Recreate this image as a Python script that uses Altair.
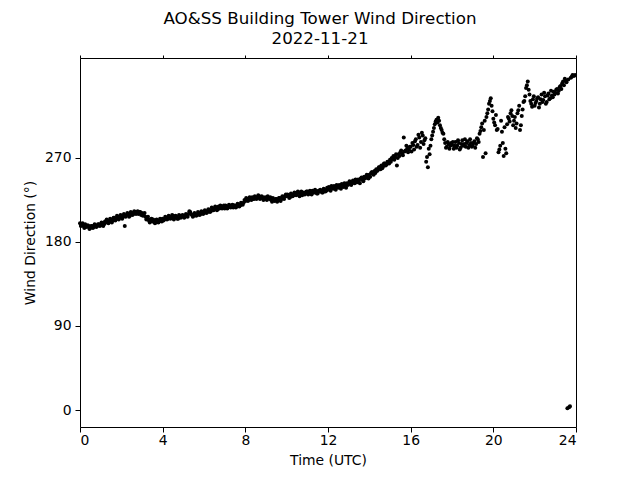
import altair as alt
import pandas as pd

# Wind direction (degrees). Series A: readings on the 5-minute marks,
# series B: readings in between (2.5 minutes later). One row per UTC hour.
a_00 = [200, 198, 197, 199, 196, 197, 195, 197, 196, 198, 197, 199]
a_01 = [198, 200, 199, 201, 203, 202, 204, 203, 206, 205, 207, 206]
a_02 = [208, 207, 197, 209, 210, 208, 211, 210, 212, 211, 210, 212]
a_03 = [211, 209, 207, 205, 203, 204, 202, 203, 201, 203, 202, 204]
a_04 = [205, 204, 206, 205, 207, 206, 208, 206, 207, 205, 208, 207]
a_05 = [208, 207, 209, 210, 212, 209, 208, 210, 209, 211, 210, 212]
a_06 = [211, 213, 212, 214, 213, 216, 215, 217, 215, 216, 218, 217]
a_07 = [216, 218, 217, 219, 218, 217, 219, 218, 220, 219, 221, 222]
a_08 = [224, 226, 225, 227, 228, 226, 228, 227, 229, 227, 228, 226]
a_09 = [227, 229, 226, 225, 227, 224, 226, 225, 227, 226, 228, 229]
a_10 = [229, 230, 228, 231, 230, 232, 231, 233, 232, 230, 233, 232]
a_11 = [234, 232, 233, 235, 233, 234, 232, 234, 235, 233, 236, 235]
a_12 = [236, 238, 240, 237, 239, 241, 238, 240, 242, 239, 241, 243]
a_13 = [242, 244, 243, 245, 247, 244, 246, 248, 247, 250, 249, 251]
a_14 = [252, 254, 253, 256, 258, 257, 260, 262, 261, 264, 263, 266]
a_15 = [268, 270, 272, 271, 262, 274, 276, 275, 292, 278, 280, 279]
a_16 = [282, 286, 279, 290, 284, 292, 287, 294, 289, 266, 260, 274]
a_17 = [290, 298, 306, 311, 313, 305, 300, 296, 286, 282, 285, 283]
a_18 = [284, 280, 287, 283, 286, 281, 289, 285, 282, 288, 284, 286]
a_19 = [283, 288, 285, 290, 296, 303, 271, 310, 314, 322, 331, 326]
a_20 = [312, 305, 300, 276, 283, 298, 272, 280, 306, 312, 318, 315]
a_21 = [310, 302, 318, 326, 305, 322, 331, 345, 352, 338, 328, 333]
a_22 = [326, 331, 335, 328, 338, 332, 336, 330, 339, 334, 337, 341]
a_23 = [340, 344, 342, 347, 350, 348, 353, 2, 3, 356, 359, 358]

b_00 = [197, 200, 195, 197, 198, 194, 197, 195, 199, 196, 199, 197]
b_01 = [201, 197, 202, 204, 200, 205, 201, 206, 203, 208, 204, 209]
b_02 = [205, 210, 207, 211, 207, 212, 209, 213, 210, 213, 212, 209]
b_03 = [208, 211, 204, 207, 201, 205, 204, 200, 204, 201, 205, 202]
b_04 = [203, 207, 204, 208, 205, 209, 204, 208, 205, 209, 206, 209]
b_05 = [206, 210, 207, 213, 210, 207, 211, 208, 212, 209, 213, 210]
b_06 = [214, 211, 215, 212, 217, 214, 218, 214, 218, 219, 216, 219]
b_07 = [219, 216, 220, 217, 220, 219, 217, 221, 218, 222, 220, 225]
b_08 = [227, 224, 228, 225, 226, 229, 226, 230, 226, 229, 225, 228]
b_09 = [225, 227, 228, 223, 225, 226, 223, 227, 224, 229, 226, 231]
b_10 = [231, 227, 232, 229, 233, 230, 234, 229, 234, 232, 231, 234]
b_11 = [231, 235, 231, 233, 236, 232, 235, 236, 233, 237, 234, 238]
b_12 = [239, 235, 238, 240, 236, 239, 241, 237, 240, 243, 238, 241]
b_13 = [245, 241, 246, 243, 244, 247, 243, 249, 245, 248, 252, 248]
b_14 = [250, 255, 252, 254, 256, 260, 258, 259, 264, 262, 266, 264]
b_15 = [266, 269, 268, 274, 270, 272, 278, 273, 277, 283, 276, 282]
b_16 = [277, 284, 288, 282, 295, 281, 297, 285, 291, 271, 280, 283]
b_17 = [294, 302, 309, 308, 310, 302, 297, 290, 281, 287, 280, 286]
b_18 = [287, 283, 281, 289, 279, 285, 283, 290, 286, 281, 290, 282]
b_19 = [286, 281, 291, 287, 299, 307, 300, 275, 318, 328, 334, 320]
b_20 = [308, 316, 301, 279, 310, 286, 303, 275, 314, 309, 321, 305]
b_21 = [314, 307, 321, 300, 315, 330, 336, 348, 343, 331, 325, 336]
b_22 = [329, 334, 324, 333, 330, 340, 328, 337, 333, 342, 335, 338]
b_23 = [343, 339, 346, 344, 352, 355, 351, 354, 4, 357, 358, 359]

series_a = [a_00, a_01, a_02, a_03, a_04, a_05, a_06, a_07, a_08, a_09, a_10, a_11,
            a_12, a_13, a_14, a_15, a_16, a_17, a_18, a_19, a_20, a_21, a_22, a_23]
series_b = [b_00, b_01, b_02, b_03, b_04, b_05, b_06, b_07, b_08, b_09, b_10, b_11,
            b_12, b_13, b_14, b_15, b_16, b_17, b_18, b_19, b_20, b_21, b_22, b_23]
minutes_a = [0, 5, 10, 15, 20, 25, 30, 35, 40, 45, 50, 55]
minutes_b = [2.5, 7.5, 12.5, 17.5, 22.5, 27.5, 32.5, 37.5, 42.5, 47.5, 52.5, 57.5]

x_ticks = [0, 4, 8, 12, 16, 20, 24]
y_ticks = [0, 90, 180, 270]

records = []
for h in range(24):
    for m, v in zip(minutes_a, series_a[h]):
        records.append({"hour": h + m / 60.0, "dir": v})
    for m, v in zip(minutes_b, series_b[h]):
        records.append({"hour": h + m / 60.0, "dir": v})
df = pd.DataFrame(records)

FONT = "DejaVu Sans"
xscale = alt.Scale(domain=[0, 24], nice=False, zero=False)
yscale = alt.Scale(domain=[-18.2, 377.1], nice=False, zero=False)

points = alt.Chart(df).mark_circle(size=16, color="black", opacity=1).encode(
    x=alt.X("hour:Q", scale=xscale,
            axis=alt.Axis(values=x_ticks, title="Time (UTC)", grid=False,
                          tickSize=5, tickColor="black", domainColor="black",
                          labelFontSize=13.9, titleFontSize=13.9, labelPadding=1,
                          titlePadding=7, labelFont=FONT, titleFont=FONT,
                          titleFontWeight="normal", labelColor="black",
                          titleColor="black", format="d")),
    y=alt.Y("dir:Q", scale=yscale,
            axis=alt.Axis(values=y_ticks, title="Wind Direction (°)", grid=False,
                          tickSize=5, tickColor="black", domainColor="black",
                          labelFontSize=13.9, titleFontSize=13.9, labelPadding=4,
                          titlePadding=7, labelFont=FONT, titleFont=FONT,
                          titleFontWeight="normal", labelColor="black",
                          titleColor="black", format="d")),
)

frame = alt.Chart(df).mark_circle(opacity=0).encode(
    x=alt.X("hour:Q", scale=xscale,
            axis=alt.Axis(orient="top", values=x_ticks, labels=False, title=None,
                          grid=False, tickSize=3, tickColor="black",
                          domainColor="black")),
    y=alt.Y("dir:Q", scale=yscale,
            axis=alt.Axis(orient="right", labels=False, ticks=False, title=None,
                          grid=False, domainColor="black")),
)

chart = alt.layer(points, frame).resolve_axis(x="independent", y="independent").properties(
    width=496,
    height=369,
    title=alt.TitleParams(
        text=["AO&SS Building Tower Wind Direction", "2022-11-21"],
        fontSize=16.7, font=FONT, fontWeight="normal", color="black",
        anchor="middle", dx=-8, offset=7, lineHeight=20,
    ),
    autosize=alt.AutoSizeParams(type="none"),
    padding={"left": 72, "top": 50, "right": 56, "bottom": 45},
).configure_view(stroke="black", strokeWidth=1).configure(background="white")

chart.save("out.html", embed_options={"renderer": "svg", "actions": False})
